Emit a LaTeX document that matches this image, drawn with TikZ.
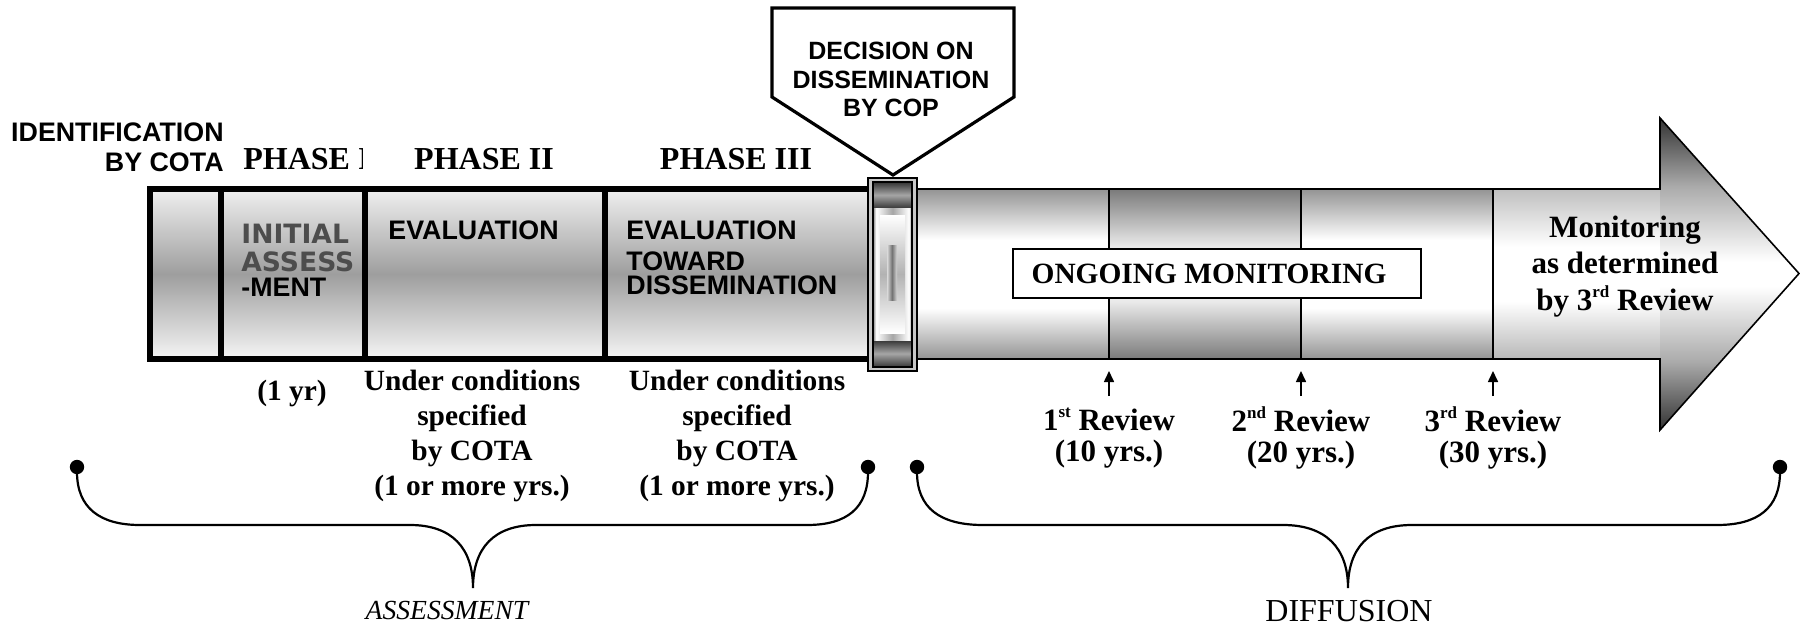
\documentclass[tikz,border=0pt]{standalone}
\usepackage{fontspec}
\setmainfont{Liberation Serif}
\newfontfamily\arialf{Liberation Sans}
\newfontfamily\verdf{DejaVu Sans}
\usetikzlibrary{arrows.meta}
\definecolor{initgray}{HTML}{4D4D4D}
\newcommand\mysup[1]{\raisebox{0.42em}{\fontsize{8.5}{9}\selectfont #1}}

\pgfdeclareverticalshading{barsh}{100bp}{color(0bp)=(black!4); color(25bp)=(black!4); color(50bp)=(black!38); color(75bp)=(black!6); color(100bp)=(black!6)}
\pgfdeclareverticalshading{bodysh}{100bp}{color(0bp)=(black!42); color(25bp)=(black!42); color(40bp)=(white); color(60bp)=(white); color(75bp)=(black!42); color(100bp)=(black!42)}
\pgfdeclareverticalshading{bodydk}{100bp}{color(0bp)=(black!52); color(25bp)=(black!52); color(42bp)=(black!8); color(58bp)=(black!8); color(75bp)=(black!52); color(100bp)=(black!52)}
\pgfdeclareverticalshading{bodylt}{100bp}{color(0bp)=(black!28); color(25bp)=(black!28); color(42bp)=(white); color(58bp)=(white); color(75bp)=(black!25); color(100bp)=(black!25)}
\pgfdeclareverticalshading{headsh}{100bp}{color(0bp)=(black!80); color(25bp)=(black!80); color(36bp)=(black!33); color(48bp)=(white); color(52bp)=(white); color(64bp)=(black!33); color(75bp)=(black!80); color(100bp)=(black!80)}
\pgfdeclareverticalshading{bandsh}{100bp}{color(0bp)=(black!78); color(25bp)=(black!78); color(50bp)=(black!35); color(75bp)=(black!80); color(100bp)=(black!80)}
\pgfdeclarehorizontalshading{midsh}{100bp}{color(0bp)=(black!50); color(25bp)=(black!50); color(29bp)=(white); color(50bp)=(black!35); color(71bp)=(white); color(75bp)=(black!50); color(100bp)=(black!50)}

\tikzset{
  barline/.style={line width=2.8pt, line cap=rect},
  thinline/.style={line width=0.8pt},
  phase/.style={font=\fontsize{16}{18}\selectfont\bfseries, inner sep=0pt},
  sanslab/.style={font=\arialf\fontsize{13.4}{15}\selectfont\bfseries, inner sep=0pt},
  declab/.style={font=\arialf\fontsize{12.5}{14.4}\selectfont\bfseries, inner sep=0pt, align=center},
  verdlab/.style={font=\verdf\fontsize{13.3}{14}\selectfont\bfseries, text=initgray, inner sep=0pt, align=left},
  undertxt/.style={font=\fontsize{14.7}{17.35}\selectfont\bfseries, inner sep=0pt, align=center},
  revtxt/.style={font=\fontsize{15.5}{15.5}\selectfont\bfseries, inner sep=0pt, align=center},
  montxt/.style={font=\fontsize{15.5}{18.25}\selectfont\bfseries, inner sep=0pt, align=center},
  ongtxt/.style={font=\fontsize{14.7}{17}\selectfont\bfseries, inner sep=0pt},
  uparrow/.style={line width=0.8pt, -{Triangle[length=5.5pt,width=5pt]}},
  brace/.style={line width=1.1pt},
  bracedot/.style={fill=black},
}

\begin{document}
\begin{tikzpicture}[x=0.5pt,y=-0.5pt]
\useasboundingbox (0,0) rectangle (1800,626);

% ---------- left bar (assessment) ----------
\foreach \a/\b in {150/221,221/365,365/605,605/870}
  \shade[shading=barsh] (\a,189) rectangle (\b,359);

% texts inside bar
\node[verdlab, anchor=west] (init12) at (241,248) {INITIAL\\ASSESS};
\node[sanslab, anchor=west] (init3) at (241,287) {-MENT};
\node[sanslab, anchor=west] (eval2) at (388,230) {EVALUATION};
\node[sanslab, anchor=west] (eval3) at (626,230) {EVALUATION};
\node[sanslab, anchor=west] (tow) at (626,261) {TOWARD};
\node[sanslab, anchor=west] (dis) at (626,285) {DISSEMINATION};

\draw[barline] (870,189) -- (150,189) -- (150,359) -- (870,359);
\foreach \x in {221,365,605}
  \draw[barline, line cap=butt] (\x,189) -- (\x,359);

% ---------- right arrow (diffusion) ----------
\shade[shading=bodysh] (917,189) rectangle (1109,359);
\shade[shading=bodydk] (1109,189) rectangle (1301,359);
\shade[shading=bodysh] (1301,189) rectangle (1493,359);
\shade[shading=bodylt] (1493,189) rectangle (1661,359);
\shade[shading=headsh] (1660,118) -- (1799,273.5) -- (1660,430) -- cycle;
\draw[thinline, line join=miter] (917,189) -- (1660,189) -- (1660,118) -- (1799,273.5) -- (1660,430) -- (1660,359) -- (917,359);
\foreach \x in {1109,1301,1493}
  \draw[thinline] (\x,189) -- (\x,359);

% ongoing monitoring box
\node[draw, fill=white, line width=1pt, minimum width=204pt, minimum height=24.5pt, inner sep=0pt] (ongbox) at (1217,273.5) {};
\node[ongtxt] (ongtext) at (1209,273.5) {ONGOING MONITORING};

\node[montxt] (montext) at (1625,266.5) {Monitoring\\as determined\\by 3\mysup{rd} Review};

% ---------- COP junction ----------
\draw[thinline, fill=black!22] (868,178) rectangle (917,371);
\shade[shading=bandsh] (873,182) rectangle (912,208);
\shade[shading=bandsh] (873,340) rectangle (912,367);
\shade[shading=midsh] (873,208) rectangle (912,340);
\shade[top color=white, bottom color=white, middle color=black!30] (880,215) rectangle (905,333);
\shade[left color=black!15, right color=black!15, middle color=black!55] (887,245) rectangle (897,300);
\draw[thinline] (873,182) rectangle (912,367);

% ---------- decision callout ----------
\draw[line width=1.6pt, fill=white, line join=miter] (772,8) -- (1014,8) -- (1014,97) -- (893,175) -- (772,97) -- cycle;
\node[declab] (dec) at (891,79.5) {DECISION ON\\DISSEMINATION\\BY COP};

% ---------- labels above bar ----------
\node[sanslab, align=right, anchor=east] (ident) at (224,147) {IDENTIFICATION\\BY COTA};
\begin{scope}
  \clip (230,100) rectangle (362,186);
  \node[phase, anchor=west] (p1) at (243,159) {PHASE I};
\end{scope}
\node[phase] (p2) at (484,159) {PHASE II};
\node[phase] (p3) at (736,159) {PHASE III};

% ---------- labels below bar ----------
\node[undertxt] (yr1) at (292,393) {(1 yr)};
\node[undertxt] (cond2) at (472,436) {Under conditions\\specified\\by COTA\\(1 or more yrs.)};
\node[undertxt] (cond3) at (737,436) {Under conditions\\specified\\by COTA\\(1 or more yrs.)};

% review arrows
\coordinate (r1b) at (1109,396); \coordinate (r1t) at (1109,371);
\coordinate (r2b) at (1301,396); \coordinate (r2t) at (1301,371);
\coordinate (r3b) at (1493,396); \coordinate (r3t) at (1493,371);
\draw[uparrow] (r1b) -- (r1t);
\draw[uparrow] (r2b) -- (r2t);
\draw[uparrow] (r3b) -- (r3t);
\node[revtxt] (rev1) at (1109,438) {1\mysup{st} Review\\(10 yrs.)};
\node[revtxt] (rev2) at (1301,438) {2\mysup{nd} Review\\(20 yrs.)};
\node[revtxt] (rev3) at (1493,438) {3\mysup{rd} Review\\(30 yrs.)};

% ---------- braces ----------
\coordinate (a1) at (77,467);
\coordinate (a2) at (868,467);
\coordinate (d1) at (917,467);
\coordinate (d2) at (1780,467);
\draw[brace] (77,472) .. controls (77,508) and (100,525) .. (140,525) -- (410,525)
  .. controls (452,525) and (473,548) .. (473,588)
  .. controls (473,548) and (494,525) .. (536,525) -- (807,525)
  .. controls (847,525) and (868,508) .. (868,472);
\draw[brace] (917,472) .. controls (917,508) and (940,525) .. (983,525) -- (1283,525)
  .. controls (1326,525) and (1348,548) .. (1348,588)
  .. controls (1348,548) and (1369,525) .. (1412,525) -- (1717,525)
  .. controls (1758,525) and (1780,508) .. (1780,472);
\foreach \c in {a1,a2,d1,d2}
  \fill[bracedot] (\c) circle[radius=3.6pt];

\node[font=\fontsize{13.8}{16}\selectfont\itshape, inner sep=0pt] (assess) at (447,610) {ASSESSMENT};
\node[font=\fontsize{16}{18}\selectfont, inner sep=0pt] (diff) at (1349,611) {DIFFUSION};
\end{tikzpicture}
\end{document}
